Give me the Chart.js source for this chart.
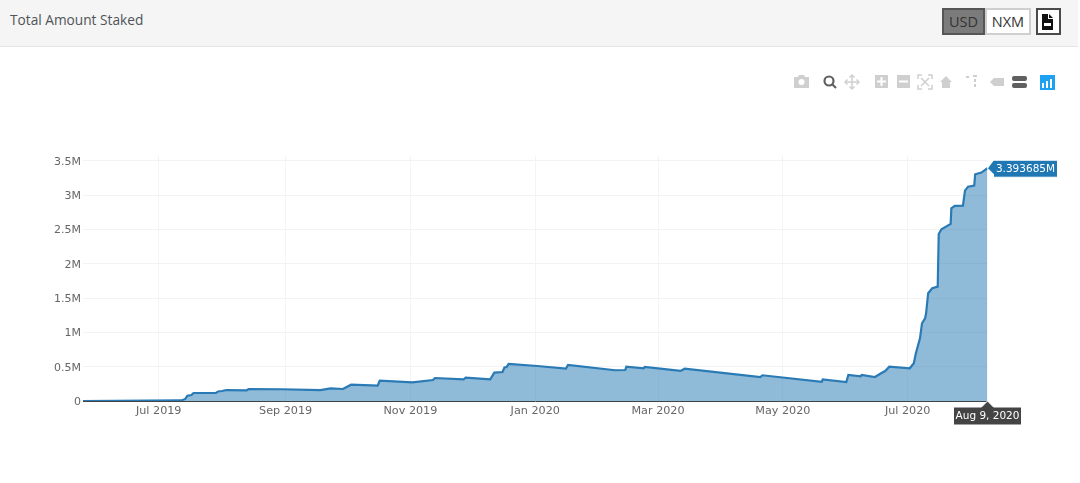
<!DOCTYPE html>
<html>
<head>
<meta charset="utf-8">
<title>Total Amount Staked</title>
<script src="https://cdn.jsdelivr.net/npm/chart.js@4"></script>
<style>
  html, body { margin: 0; padding: 0; background: #fff; overflow: hidden; }
  #wrap { position: relative; width: 1080px; height: 483px; }
  #chart { position: absolute; left: 0; top: 0; }
  #head { position: absolute; left: 0; top: 0; width: 1078px; height: 46px; background: #f5f5f5; border-bottom: 1px solid #e4e4e4; }
  #title { position: absolute; left: 10px; top: 10px; font: 13.7px/19px "Open Sans", sans-serif; color: #4f5458; }
  .btn { position: absolute; top: 8px; height: 27px; box-sizing: border-box; font: 14.5px/23px "Open Sans", sans-serif; color: #333; text-align: center; }
  #usd { left: 942px; width: 43px; background: #7b7b7b; border: 2px solid #565656; }
  #nxm { left: 985px; width: 46px; background: #fff; border: 2px solid #cfcfcf; }
  #csv { left: 1036px; width: 25px; background: #fff; border: 2px solid #4a4a4a; }
  #csv svg { position: absolute; left: 4px; top: 4px; }
  #bar { position: absolute; left: 790px; top: 72px; }
</style>
</head>
<body>
<div id="wrap">
  <canvas id="chart" width="1080" height="483"></canvas>
  <div id="head">
    <div id="title">Total Amount Staked</div>
    <div class="btn" id="usd">USD</div>
    <div class="btn" id="nxm">NXM</div>
    <div class="btn" id="csv">
      <svg width="11" height="16" viewBox="0 0 11 16"><path d="M0 0H6V5H11V16H0Z" fill="#111"/><path d="M7 0L11 4H7Z" fill="#111"/><rect x="2" y="9" width="7" height="3" fill="#fff"/></svg>
    </div>
  </div>
  <svg id="bar" width="270" height="20" viewBox="0 0 270 20">
    <!-- camera, plus, minus, home, spikes, closest -->
    <g fill="#cfcfcf">
      <path d="M4 5H8L9 3H14L15 5H19V16H4Z"/>
      <rect x="85" y="3" width="13" height="13"/>
      <rect x="107" y="3" width="13" height="13"/>
      <path d="M150 10L156 4L162 10H160V16H152V10Z"/>
      <path d="M176 4h3v2h-3zM183 3h4v2h-4zM184 7h2v3h-2zM184 12h2v3h-2z"/>
      <path d="M200 10L204 6H214V14H204Z"/>
    </g>
    <g fill="#fff">
      <rect x="90.5" y="5" width="2" height="9"/><rect x="87" y="8.5" width="9" height="2"/>
      <rect x="109" y="8.5" width="9" height="2"/>
      <circle cx="11.5" cy="10" r="3"/>
    </g>
    <!-- pan -->
    <g fill="none" stroke="#d0d0d0" stroke-width="1.5">
      <path d="M55 10H69M62 3V17"/>
      <path d="M57.5 7.5L55 10L57.5 12.5M66.5 7.5L69 10L66.5 12.5M59.5 5.5L62 3L64.5 5.5M59.5 14.5L62 17L64.5 14.5"/>
    </g>
    <!-- autoscale -->
    <g fill="none" stroke="#cfcfcf" stroke-width="1.5">
      <path d="M128 7V3H132M138 3H142V7M142 13V17H138M132 17H128V13"/>
      <path d="M131 6L139 14M139 6L131 14"/>
    </g>
    <!-- zoom, active -->
    <g fill="none" stroke="#606060" stroke-width="2.2">
      <circle cx="39" cy="9" r="4.5"/><path d="M42 12L46 16"/>
    </g>
    <!-- compare, active -->
    <g fill="#606060">
      <rect x="222" y="4" width="15" height="5" rx="2"/><rect x="222" y="11" width="15" height="5" rx="2"/>
    </g>
    <rect x="250" y="3" width="15" height="15" fill="#1da1f2"/>
    <g fill="#fff"><rect x="252" y="11" width="2" height="5"/><rect x="256" y="9" width="2" height="7"/><rect x="260" y="7" width="2" height="9"/></g>
  </svg>
</div>
<script>
const dates = [
  '2019-05-25', '2019-07-12', '2019-07-14', '2019-07-15', '2019-07-17', '2019-07-18', '2019-07-29', '2019-07-30',
  '2019-08-01', '2019-08-03', '2019-08-13', '2019-08-14', '2019-08-30', '2019-09-18', '2019-09-23', '2019-09-29',
  '2019-10-03', '2019-10-16', '2019-10-17', '2019-11-02', '2019-11-12', '2019-11-13', '2019-11-27', '2019-11-28',
  '2019-12-10', '2019-12-12', '2019-12-16', '2019-12-17', '2019-12-18', '2019-12-19', '2020-01-02', '2020-01-16',
  '2020-01-17', '2020-02-09', '2020-02-14', '2020-02-14T12:00Z', '2020-02-23', '2020-02-23T12:00Z', '2020-03-12', '2020-03-14',
  '2020-04-20', '2020-04-21', '2020-05-20', '2020-05-20T12:00Z', '2020-06-01', '2020-06-02', '2020-06-08', '2020-06-08T12:00Z',
  '2020-06-15', '2020-06-18', '2020-06-20', '2020-06-22', '2020-07-02', '2020-07-04', '2020-07-05', '2020-07-07',
  '2020-07-08', '2020-07-09T12:00Z', '2020-07-10', '2020-07-11', '2020-07-13', '2020-07-15T16:00Z', '2020-07-16T04:00Z', '2020-07-17T12:00Z',
  '2020-07-22', '2020-07-22T08:00Z', '2020-07-24', '2020-07-28', '2020-07-29', '2020-07-30T12:00Z', '2020-08-02T12:00Z', '2020-08-03',
  '2020-08-06', '2020-08-09'
];
const staked = [
  0, 8000, 30000, 77000, 87000, 117000, 117000, 139000,
  146000, 160000, 156000, 175000, 171000, 160000, 185000, 175000,
  238000, 223000, 296000, 273000, 306000, 335000, 316000, 340000,
  316000, 413000, 423000, 491000, 496000, 540000, 510000, 471000,
  525000, 448000, 452000, 500000, 477000, 496000, 438000, 471000,
  350000, 375000, 281000, 316000, 277000, 379000, 360000, 379000,
  350000, 404000, 437000, 500000, 477000, 550000, 696000, 914000,
  1133000, 1206000, 1279000, 1571000, 1644000, 1667000, 2435000, 2504000,
  2581000, 2810000, 2844000, 2848000, 3067000, 3125000, 3140000, 3306000,
  3330000, 3393685
];
const xTickDates = ['2019-07-01', '2019-09-01', '2019-11-01', '2020-01-01', '2020-03-01', '2020-05-01', '2020-07-01'];
const xTickLabels = ['Jul 2019', 'Sep 2019', 'Nov 2019', 'Jan 2020', 'Mar 2020', 'May 2020', 'Jul 2020'];
const yTickValues = [0, 500000, 1000000, 1500000, 2000000, 2500000, 3000000, 3500000];
const yTickLabels = ['0', '0.5M', '1M', '1.5M', '2M', '2.5M', '3M', '3.5M'];
const hoverValue = '3.393685M';
const hoverDate = 'Aug 9, 2020';

const xTimes = xTickDates.map(d => Date.parse(d));

// the two plotly style hover labels on the last point
const hoverLabels = {
  id: 'hoverLabels',
  afterDraw(chart) {
    const c = chart.ctx;
    const px = chart.scales.x.getPixelForValue(Date.parse(dates[dates.length - 1]));
    const py = chart.scales.y.getPixelForValue(staked[staked.length - 1]);
    const base = chart.scales.y.getPixelForValue(0);
    c.save();
    c.font = '10.5px "DejaVu Sans"';
    c.textBaseline = 'middle';
    c.textAlign = 'center';

    c.fillStyle = '#1f77b4';
    c.strokeStyle = '#ffffff';
    c.lineWidth = 1;
    c.beginPath();
    c.moveTo(px, py);
    c.lineTo(px + 6, py - 8);
    c.lineTo(px + 70, py - 8);
    c.lineTo(px + 70, py + 9);
    c.lineTo(px + 6, py + 9);
    c.lineTo(px + 6, py + 6);
    c.closePath();
    c.fill();
    c.stroke();
    c.fillStyle = '#ffffff';
    c.fillText(hoverValue, px + 38, py + 1);

    c.fillStyle = '#444444';
    c.beginPath();
    c.moveTo(px, base);
    c.lineTo(px + 6, base + 6);
    c.lineTo(px + 34, base + 6);
    c.lineTo(px + 34, base + 24);
    c.lineTo(px - 34, base + 24);
    c.lineTo(px - 34, base + 6);
    c.lineTo(px - 6, base + 6);
    c.closePath();
    c.fill();
    c.stroke();
    c.fillStyle = '#ffffff';
    c.fillText(hoverDate, px, base + 15);
    c.restore();
  }
};

new Chart(document.getElementById('chart').getContext('2d'), {
  type: 'line',
  data: {
    datasets: [{
      data: dates.map((d, i) => ({ x: Date.parse(d), y: staked[i] })),
      borderColor: '#2a7ab5',
      borderWidth: 2.2,
      backgroundColor: 'rgba(31, 119, 180, 0.5)',
      fill: 'origin',
      pointRadius: 0,
      tension: 0
    }]
  },
  options: {
    responsive: false,
    animation: false,
    layout: { padding: { top: 156, right: 92.5, left: 0, bottom: 0 } },
    plugins: { legend: { display: false }, tooltip: { enabled: false } },
    scales: {
      x: {
        type: 'linear',
        min: Date.parse(dates[0]),
        max: Date.parse(dates[dates.length - 1]),
        afterFit: s => { s.height = 82; },
        afterBuildTicks: s => { s.ticks = xTimes.map(v => ({ value: v })); },
        grid: { color: '#f4f4f4', drawTicks: false },
        border: { color: '#444444', width: 1 },
        ticks: {
          autoSkip: false,
          maxRotation: 0,
          padding: 3,
          color: '#666666',
          font: { family: 'DejaVu Sans', size: 11.2 },
          callback: v => xTickLabels[xTimes.indexOf(v)]
        }
      },
      y: {
        min: 0,
        max: 3572000,
        afterFit: s => { s.width = 83; },
        afterBuildTicks: s => { s.ticks = yTickValues.map(v => ({ value: v })); },
        grid: { color: '#f3f3f3', drawTicks: false },
        border: { display: false },
        ticks: {
          padding: 2,
          labelOffset: 1,
          color: '#666666',
          font: { family: 'DejaVu Sans', size: 11 },
          callback: v => yTickLabels[yTickValues.indexOf(v)]
        }
      }
    }
  },
  plugins: [hoverLabels]
});
</script>
</body>
</html>
